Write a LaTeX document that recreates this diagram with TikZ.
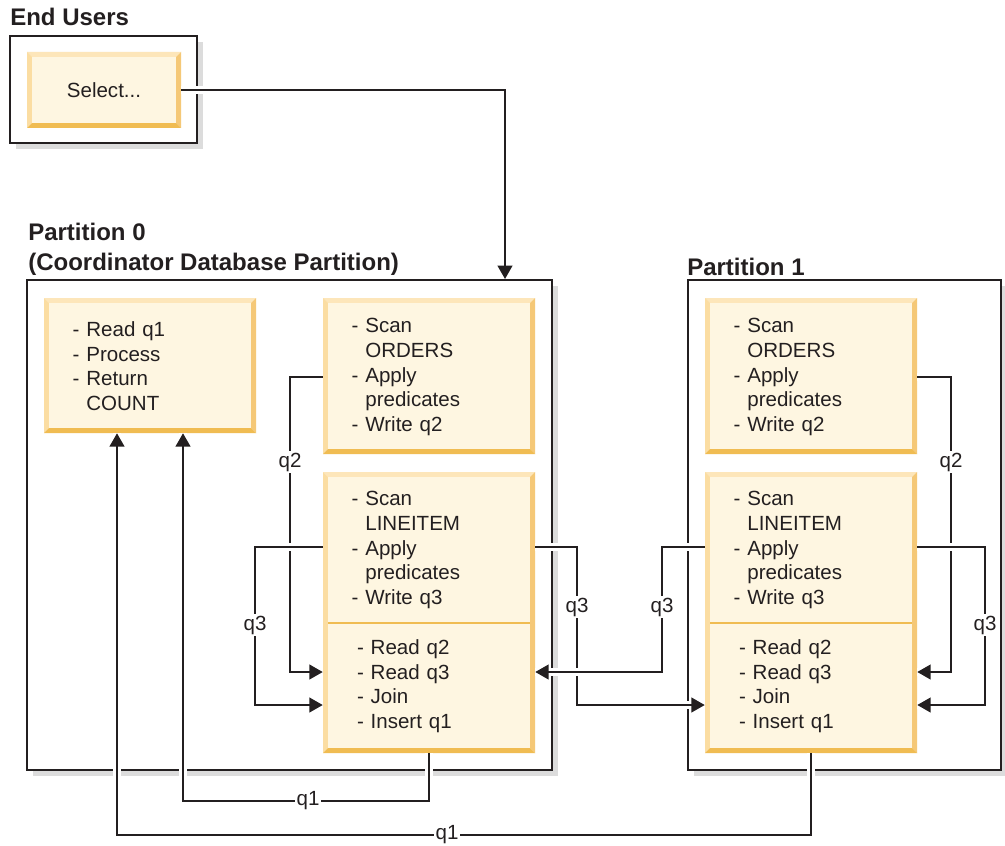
\documentclass[tikz,border=0pt]{standalone}
\usepackage{fontspec}
\setmainfont{Liberation Sans}
\usetikzlibrary{arrows.meta,shadows}
\definecolor{ink}{HTML}{231F20}
\definecolor{boxfill}{HTML}{FEF6E1}
\definecolor{bvtop}{HTML}{FDE6BA}
\definecolor{bvleft}{HTML}{FBDDA2}
\definecolor{bvright}{HTML}{F5C877}
\definecolor{bvbot}{HTML}{F0BC52}
\definecolor{shade}{HTML}{DCDCDC}
\newcommand{\bw}{3.6pt}
\newcommand{\ppb}{path picture bounding box}
\tikzset{
  body/.style={font=\fontsize{15.4pt}{18.4pt}\selectfont},
  ttl/.style={font=\fontsize{18pt}{21pt}\selectfont\bfseries, inner sep=0pt, anchor=base west, text=ink},
  bevel/.style={fill=boxfill, inner sep=0pt, path picture={
    \fill[bvtop] (\ppb.north west) -- (\ppb.north east) -- ([xshift=-\bw,yshift=-\bw]\ppb.north east) -- ([xshift=\bw,yshift=-\bw]\ppb.north west) -- cycle;
    \fill[bvleft] (\ppb.north west) -- (\ppb.south west) -- ([xshift=\bw,yshift=\bw]\ppb.south west) -- ([xshift=\bw,yshift=-\bw]\ppb.north west) -- cycle;
    \fill[bvright] (\ppb.north east) -- (\ppb.south east) -- ([xshift=-\bw,yshift=\bw]\ppb.south east) -- ([xshift=-\bw,yshift=-\bw]\ppb.north east) -- cycle;
    \fill[bvbot] (\ppb.south west) -- (\ppb.south east) -- ([xshift=-\bw,yshift=\bw]\ppb.south east) -- ([xshift=\bw,yshift=\bw]\ppb.south west) -- cycle;
  }},
  txt/.style={body, align=left, inner sep=0pt, text=ink},
  frame/.style={draw=ink, line width=1.5pt, fill=white,
    drop shadow={shadow xshift=4.5pt, shadow yshift=-4.5pt, fill=shade, opacity=1}},
  conn/.style={draw=ink, line width=1.5pt, preaction={draw=white, line width=6.5pt, arrows=-}},
  arr/.style={-{Triangle[length=10pt,width=11pt]}},
  lbl/.style={body, fill=white, inner sep=1.5pt, text=ink},
  divider/.style={draw=bvbot, line width=1.5pt},
}
\begin{document}
\begin{tikzpicture}[x=0.75pt, y=-0.75pt]
\useasboundingbox (0,0) rectangle (1005,845);

% titles
\node[ttl] (teu) at (10,26) {End Users};
\node[ttl] (tp0) at (28,240) {Partition 0};
\node[ttl] (tp0b) at (28,270) {(Coordinator Database Partition)};
\node[ttl] (tp1) at (687,275) {Partition 1};

% frames
\node[frame, minimum width=140.25pt, minimum height=80.25pt] (eu) at (103.5,89.5) {};
\node[frame, minimum width=393.75pt, minimum height=367.5pt] (p0) at (289.5,525) {};
\node[frame, minimum width=234.75pt, minimum height=367.5pt] (p1) at (844.5,525) {};

% boxes
\node[bevel, minimum width=115.5pt, minimum height=57pt, body, text=ink] (sel) at (104,90) {Select...};

\node[bevel, minimum width=159pt, minimum height=101.25pt] (A) at (150,365.5) {};
\node[txt, text width=116pt] (At) at (150,366) {- Read q1\\- Process\\- Return\\\phantom{- }COUNT};

\node[bevel, minimum width=159pt, minimum height=117pt] (B) at (429,376) {};
\node[txt, text width=116pt] (Bt) at (429,377) {- Scan\\\phantom{- }ORDERS\\- Apply\\\phantom{- }predicates\\- Write q2};

\node[bevel, minimum width=159pt, minimum height=210.75pt] (C) at (429,612.5) {};
\node[txt, text width=116pt] (Ct) at (429,550) {- Scan\\\phantom{- }LINEITEM\\- Apply\\\phantom{- }predicates\\- Write q3};
\draw[divider] (328,623) -- (530,623);
\node[txt, text width=108pt] (Cb) at (429,686) {- Read q2\\- Read q3\\- Join\\- Insert q1};

\node[bevel, minimum width=159pt, minimum height=117pt] (D) at (811,376) {};
\node[txt, text width=116pt] (Dt) at (811,377) {- Scan\\\phantom{- }ORDERS\\- Apply\\\phantom{- }predicates\\- Write q2};

\node[bevel, minimum width=159pt, minimum height=210.75pt] (E) at (811,612.5) {};
\node[txt, text width=116pt] (Et) at (811,550) {- Scan\\\phantom{- }LINEITEM\\- Apply\\\phantom{- }predicates\\- Write q3};
\draw[divider] (710,623) -- (912,623);
\node[txt, text width=108pt] (Eb) at (811,686) {- Read q2\\- Read q3\\- Join\\- Insert q1};

% connectors
\draw[conn, arr] (sel.east) -| (505,0 |- p0.north);

\draw[conn, arr] (B.west |- 0,377) -| (290,672) -- (C.west |- 0,672);
\draw[conn, arr] (C.west |- 0,547) -| (255,705) -- (C.west |- 0,705);
\draw[conn, arr] (C.east |- 0,547) -| (577,705) -- (E.west |- 0,705);
\draw[conn, arr] (E.west |- 0,547) -| (662,672) -- (C.east |- 0,672);
\draw[conn, arr] (D.east |- 0,377) -| (951,672) -- (E.east |- 0,672);
\draw[conn, arr] (E.east |- 0,547) -| (985,705) -- (E.east |- 0,705);
\draw[conn, arr] (C.south) |- (183,801) -- (183,0 |- A.south);
\draw[conn, arr] (E.south) |- (117,835) -- (117,0 |- A.south);

% labels
\node[lbl] (l1) at (290,462) {q2};
\node[lbl] (l2) at (255,625) {q3};
\node[lbl] (l3) at (577,607) {q3};
\node[lbl] (l4) at (662,607) {q3};
\node[lbl] (l5) at (951,462) {q2};
\node[lbl] (l6) at (985,625) {q3};
\node[lbl] (l7) at (308,801) {q1};
\node[lbl] (l8) at (447,835) {q1};
\end{tikzpicture}
\end{document}
